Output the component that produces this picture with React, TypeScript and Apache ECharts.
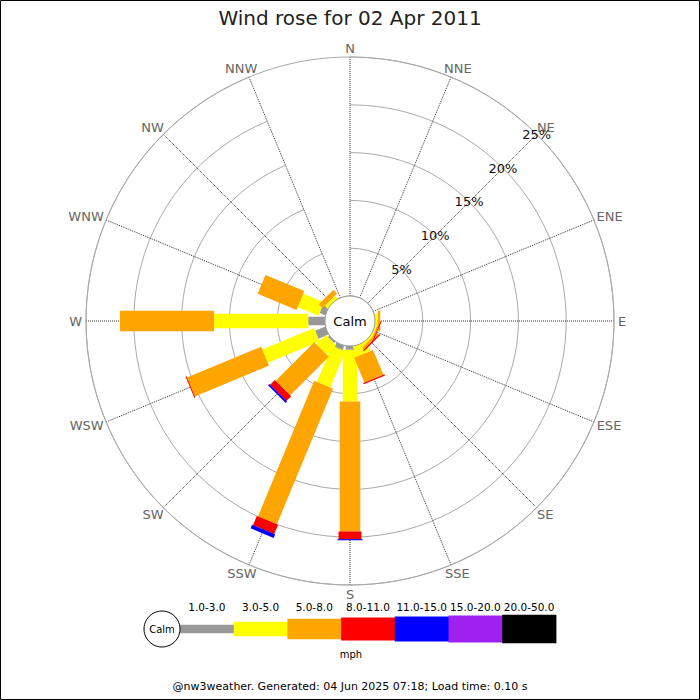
import React, { useEffect, useRef } from "react";
import * as echarts from "echarts";

const DIRECTIONS = ["N", "NNE", "NE", "ENE", "E", "ESE", "SE", "SSE", "S", "SSW", "SW", "WSW", "W", "WNW", "NW", "NNW"];
const SPEED_CLASSES = ["1.0-3.0", "3.0-5.0", "5.0-8.0", "8.0-11.0", "11.0-15.0", "15.0-20.0", "20.0-50.0"];
const CLASS_COLORS = ["#999999", "#ffff00", "#ffa500", "#ff0000", "#0000ff", "#a020f0", "#000000"];
const CLASS_WIDTHS = [8.5, 14.5, 20.5, 23, 25, 27, 28.5];

// percentage of time per direction, one array per speed class (mph)
const PCT_1_3 = [0, 0, 0, 0, 0, 0, 0, 0, 0.4, 0.5, 0.2, 1.15, 1.75, 0.65, 0, 0];
const PCT_3_5 = [0, 0, 0, 0, 0.3, 0.2, 0.25, 1.1, 5.4, 4.1, 1.4, 5.85, 9.85, 2.35, 0.37, 0];
const PCT_5_8 = [0, 0, 0, 0, 0.25, 0.15, 0.25, 2.8, 13.6, 15.35, 5.7, 8.4, 9.85, 4.4, 0.55, 0];
const PCT_8_11 = [0, 0, 0, 0, 0, 0.1, 0.15, 0.15, 0.8, 1.05, 0.7, 0.1, 0, 0, 0, 0];
const PCT_11_15 = [0, 0, 0, 0, 0, 0, 0, 0, 0.12, 0.4, 0.2, 0, 0, 0, 0, 0];
const PCT_15_20 = [0, 0, 0, 0, 0, 0, 0, 0, 0, 0, 0, 0, 0, 0, 0, 0];
const PCT_20_50 = [0, 0, 0, 0, 0, 0, 0, 0, 0, 0, 0, 0, 0, 0, 0, 0];
const CLASS_VALUES = [PCT_1_3, PCT_3_5, PCT_5_8, PCT_8_11, PCT_11_15, PCT_15_20, PCT_20_50];

const RING_TICKS = [5, 10, 15, 20, 25];
const RADIUS_MAX = 25;
const RING_LABEL_DIR = 2; // NE
const TITLE = "Wind rose for 02 Apr 2011";
const UNIT = "mph";
const CALM = "Calm";
const FOOTER = "@nw3weather. Generated: 04 Jun 2025 07:18; Load time: 0.10 s";

const FONT = "DejaVu Sans";
const CHAR_EM: Record<string, number> = { N: 0.748, E: 0.632, S: 0.635, W: 0.989 };
const DIR_FONT = 13;

function unitDir(api: any, idx: number) {
  const a = api.coord([0, idx]);
  const b = api.coord([RADIUS_MAX, idx]);
  const dx = b[0] - a[0];
  const dy = b[1] - a[1];
  const L = Math.hypot(dx, dy) || 1;
  return { ux: dx / L, uy: dy / L, outer: b };
}

export default function App() {
  const ref = useRef<HTMLDivElement>(null);
  useEffect(() => {
    if (!ref.current) return;
    const chart = echarts.init(ref.current, undefined, { renderer: "svg" });

    const barSeries = SPEED_CLASSES.map((name, k) => {
      const data: number[][] = [];
      DIRECTIONS.forEach((_, i) => {
        let start = 0;
        for (let j = 0; j < k; j++) start += CLASS_VALUES[j][i];
        const v = CLASS_VALUES[k][i];
        if (v > 0) data.push([start + v, i, start]);
      });
      return {
        type: "custom",
        name,
        coordinateSystem: "polar",
        clip: false,
        z: 3,
        data,
        renderItem: (params: any, api: any) => {
          const end = api.value(0);
          const idx = api.value(1);
          const start = api.value(2);
          const { ux, uy } = unitDir(api, idx);
          const nx = -uy;
          const ny = ux;
          let a = api.coord([start, idx]);
          const b = api.coord([end, idx]);
          if (start === 0) a = [a[0] - ux * 6, a[1] - uy * 6];
          const hw = CLASS_WIDTHS[k] / 2;
          return {
            type: "polygon",
            shape: {
              points: [
                [a[0] + nx * hw, a[1] + ny * hw],
                [b[0] + nx * hw, b[1] + ny * hw],
                [b[0] - nx * hw, b[1] - ny * hw],
                [a[0] - nx * hw, a[1] - ny * hw],
              ],
            },
            style: { fill: CLASS_COLORS[k] },
          };
        },
      };
    });

    const dirLabelSeries = {
      type: "custom",
      coordinateSystem: "polar",
      clip: false,
      silent: true,
      z: 5,
      data: DIRECTIONS.map((_, i) => [RADIUS_MAX, i]),
      renderItem: (params: any, api: any) => {
        const idx = api.value(1);
        const name = DIRECTIONS[idx];
        const { ux, uy, outer } = unitDir(api, idx);
        let w = 0;
        for (const c of name) w += (CHAR_EM[c] || 0.7) * DIR_FONT;
        const hw = w / 2;
        const hh = 5;
        const gap = 4;
        return {
          type: "text",
          x: outer[0] + ux * gap + ux * hw,
          y: outer[1] + uy * gap + uy * hh,
          style: {
            text: name,
            fill: "#666666",
            fontSize: DIR_FONT,
            fontFamily: FONT,
            align: "center",
            verticalAlign: "middle",
            textAlign: "center",
            textVerticalAlign: "middle",
          },
        };
      },
    };

    const ringLabelSeries = {
      type: "custom",
      coordinateSystem: "polar",
      clip: false,
      silent: true,
      z: 5,
      data: RING_TICKS.map((v) => [v, RING_LABEL_DIR]),
      renderItem: (params: any, api: any) => {
        const v = api.value(0);
        const p = api.coord([v, api.value(1)]);
        return {
          type: "text",
          x: p[0],
          y: p[1],
          style: {
            text: `${v}%`,
            fill: "#111111",
            fontSize: 13,
            fontFamily: FONT,
            align: "center",
            verticalAlign: "middle",
            textAlign: "center",
            textVerticalAlign: "middle",
          },
        };
      },
    };

    const legendX0 = 180;
    const legendStep = 53.7;
    const legendY = 629;
    const legendEls: any[] = [
      {
        type: "circle",
        shape: { cx: 162, cy: legendY, r: 18 },
        style: { fill: "#ffffff", stroke: "#000000", lineWidth: 1 },
        z: 10,
      },
      {
        type: "text",
        x: 162,
        y: legendY,
        style: { text: CALM, fill: "#000", fontSize: 10, fontFamily: FONT, align: "center", verticalAlign: "middle", textAlign: "center", textVerticalAlign: "middle" },
        z: 11,
      },
    ];
    SPEED_CLASSES.forEach((name, k) => {
      const h = CLASS_WIDTHS[k];
      legendEls.push({
        type: "rect",
        shape: { x: legendX0 + k * legendStep, y: legendY - h / 2, width: legendStep + 0.5, height: h },
        style: { fill: CLASS_COLORS[k] },
        z: 9,
      });
      legendEls.push({
        type: "text",
        x: legendX0 + k * legendStep + legendStep / 2,
        y: 607,
        style: { text: name, fill: "#000", fontSize: 10.5, fontFamily: FONT, align: "center", verticalAlign: "middle", textAlign: "center", textVerticalAlign: "middle" },
        z: 10,
      });
    });
    legendEls.push({
      type: "text",
      x: 351,
      y: 654,
      style: { text: UNIT, fill: "#000", fontSize: 10, fontFamily: FONT, align: "center", verticalAlign: "middle", textAlign: "center", textVerticalAlign: "middle" },
      z: 10,
    });

    chart.setOption({
      animation: false,
      backgroundColor: "#ffffff",
      title: {
        text: TITLE,
        left: "center",
        top: 3,
        textStyle: { fontSize: 20, fontWeight: "normal", color: "#222222", fontFamily: FONT },
      },
      polar: { center: [350, 321], radius: [25, 264] },
      angleAxis: {
        type: "category",
        data: DIRECTIONS,
        boundaryGap: false,
        startAngle: 90,
        clockwise: true,
        axisLine: { show: true, lineStyle: { color: "#aaaaaa", width: 1 } },
        axisTick: { show: false },
        axisLabel: { show: false },
        splitLine: { show: true, lineStyle: { color: "#333333", type: "dotted", width: 1 } },
      },
      radiusAxis: {
        type: "value",
        min: 0,
        max: RADIUS_MAX,
        interval: 5,
        axisLine: { show: false },
        axisTick: { show: false },
        axisLabel: { show: false },
        splitLine: { show: true, lineStyle: { color: "#aaaaaa", width: 1 } },
      },
      series: [...barSeries, dirLabelSeries, ringLabelSeries],
      graphic: [
        {
          type: "circle",
          shape: { cx: 350, cy: 321, r: 25 },
          style: { fill: "#ffffff", stroke: "#999999", lineWidth: 1 },
          z: 20,
        },
        {
          type: "text",
          x: 350,
          y: 321,
          style: { text: CALM, fill: "#000", fontSize: 13, fontFamily: FONT, align: "center", verticalAlign: "middle", textAlign: "center", textVerticalAlign: "middle" },
          z: 21,
        },
        ...legendEls,
        {
          type: "text",
          x: 350,
          y: 686,
          style: { text: FOOTER, fill: "#000", fontSize: 11, fontFamily: FONT, align: "center", verticalAlign: "middle", textAlign: "center", textVerticalAlign: "middle" },
          z: 10,
        },
        {
          type: "rect",
          shape: { x: 0.5, y: 0.5, width: 699, height: 699 },
          style: { fill: "none", stroke: "#000000", lineWidth: 1 },
          z: 30,
        },
      ],
    });
    return () => chart.dispose();
  }, []);
  return <div ref={ref} style={{ position: "absolute", left: 0, top: 0, width: 700, height: 700 }} />;
}
